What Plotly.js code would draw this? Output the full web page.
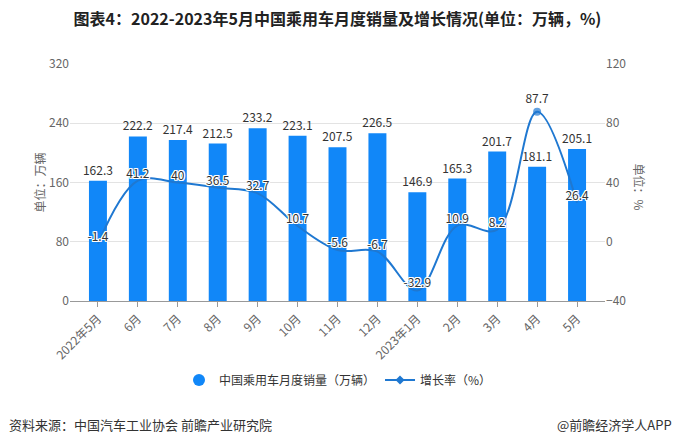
<!DOCTYPE html>
<html>
<head>
<meta charset="utf-8">
<script src="https://cdn.plot.ly/plotly-3.0.1.min.js"></script>
<style>html,body{margin:0;padding:0;background:#fff}#chart{width:676px;height:439px}</style>
</head>
<body>
<div id="chart"></div>
<script>
const categories = ["2022年5月","6月","7月","8月","9月","10月","11月","12月","2023年1月","2月","3月","4月","5月"];
const salesValues = [162.3,222.2,217.4,212.5,233.2,223.1,207.5,226.5,146.9,165.3,201.7,181.1,205.1];
const growthValues = [-1.4,41.2,40,36.5,32.7,10.7,-5.6,-6.7,-32.9,10.9,8.2,87.7,26.4];
const leftTicks = [0,80,160,240,320];
const rightTicks = [-40,0,40,80,120];

const FONT = '"Noto Sans CJK SC","Microsoft YaHei",sans-serif';
const barColor = '#1187f8';
const lineColor = '#1f78d1';
const xIdx = categories.map((_, i) => i);
const peak = growthValues.indexOf(Math.max(...growthValues));
const markerSizes = growthValues.map((_, i) => i === peak ? 8 : 0);
const halo = '-1px -1px 0 #fff, 1px -1px 0 #fff, -1px 1px 0 #fff, 1px 1px 0 #fff, 0 1px 0 #fff, 0 -1px 0 #fff, 1px 0 0 #fff, -1px 0 0 #fff';

const traces = [
  {
    type: 'bar', x: xIdx, y: salesValues, width: 0.45,
    marker: {color: barColor},
    text: salesValues.map(v => v.toFixed(1)), textposition: 'outside',
    constraintext: 'none', textangle: 0,
    textfont: {family: FONT, size: 12, color: '#333'},
    cliponaxis: false, showlegend: false, hoverinfo: 'skip'
  },
  {
    type: 'scatter', mode: 'lines+markers+text', x: xIdx, y: growthValues, yaxis: 'y2',
    line: {color: lineColor, width: 2, shape: 'spline', smoothing: 1},
    marker: {color: lineColor, size: markerSizes, line: {width: 0}},
    text: growthValues.map(v => String(v)), textposition: 'top center',
    textfont: {family: FONT, size: 12, color: '#333', shadow: halo},
    cliponaxis: false, showlegend: false, hoverinfo: 'skip'
  },
  {
    type: 'scatter', mode: 'markers', x: [null], y: [null],
    name: '中国乘用车月度销量（万辆）',
    marker: {color: barColor, size: 12, symbol: 'circle'}
  },
  {
    type: 'scatter', mode: 'lines+markers', x: [null], y: [null], yaxis: 'y2',
    name: '增长率（%）',
    line: {color: lineColor, width: 2},
    marker: {color: lineColor, size: 7, symbol: 'diamond'}
  }
];

const layout = {
  width: 676, height: 439,
  paper_bgcolor: '#fff', plot_bgcolor: '#fff',
  margin: {l: 70, r: 71, t: 64, b: 138},
  font: {family: FONT, size: 12, color: '#666'},
  title: {
    text: '<b>图表4：2022-2023年5月中国乘用车月度销量及增长情况(单位：万辆，%)</b>',
    x: 0.5, xanchor: 'center', xref: 'paper', y: 0.955, yref: 'container', yanchor: 'middle',
    font: {family: '"Liberation Sans Narrow","Noto Sans CJK SC",sans-serif', size: 16, color: '#222'}
  },
  xaxis: {
    range: [-0.7, 12.7], tickmode: 'array', tickvals: xIdx, ticktext: categories,
    tickangle: -45, showgrid: false, zeroline: false,
    showline: true, linecolor: '#999', linewidth: 1,
    ticks: 'outside', ticklen: 5, tickcolor: '#999',
    tickfont: {family: FONT, size: 12, color: '#666'}
  },
  yaxis: {
    range: [0, 320], tickmode: 'array', tickvals: leftTicks,
    showgrid: true, gridcolor: '#e3e3e3', gridwidth: 1, zeroline: false,
    showline: false, ticks: '', ticklen: 0,
    tickfont: {family: FONT, size: 12, color: '#666'}
  },
  yaxis2: {
    range: [-40, 120], tickmode: 'array', tickvals: rightTicks,
    overlaying: 'y', side: 'right', showgrid: false, zeroline: false,
    showline: false, ticks: '',
    tickfont: {family: FONT, size: 12, color: '#666'}
  },
  legend: {
    orientation: 'h', x: 0.5, xanchor: 'center', xref: 'container',
    y: 1 - 380/439, yref: 'container', yanchor: 'middle',
    font: {family: FONT, size: 12, color: '#333'},
    itemwidth: 30, tracegroupgap: 0
  },
  annotations: [
    {text: '单位：万辆', textangle: -90, xref: 'paper', yref: 'paper', showarrow: false,
     font: {family: FONT, size: 12, color: '#666'}},
    {text: '单位：%', textangle: 90, xref: 'paper', yref: 'paper',
     showarrow: false, font: {family: FONT, size: 12, color: '#666'}},
    {text: '资料来源：中国汽车工业协会 前瞻产业研究院', xref: 'paper', yref: 'paper',
     showarrow: false, xanchor: 'left', yanchor: 'middle',
     font: {family: FONT, size: 13, color: '#333'}},
    {text: '@前瞻经济学人APP', xref: 'paper', yref: 'paper',
     showarrow: false, xanchor: 'right', yanchor: 'middle',
     font: {family: FONT, size: 13, color: '#333'}}
  ]
};

// convert pixel positions to paper coords
const pw = 676 - 70 - 71, ph = 439 - 64 - 138;
const px = x => (x - 70) / pw;
const py = y => (439 - 138 - y) / ph;
layout.annotations[0].x = px(28);
layout.annotations[0].y = py(183);
layout.annotations[1].x = px(650);
layout.annotations[1].y = py(187);
layout.annotations[2].x = px(7);
layout.annotations[2].y = py(424);
layout.annotations[3].x = px(674);
layout.annotations[3].y = py(424);

Plotly.newPlot('chart', traces, layout, {displayModeBar: false, staticPlot: true});
</script>
</body>
</html>
